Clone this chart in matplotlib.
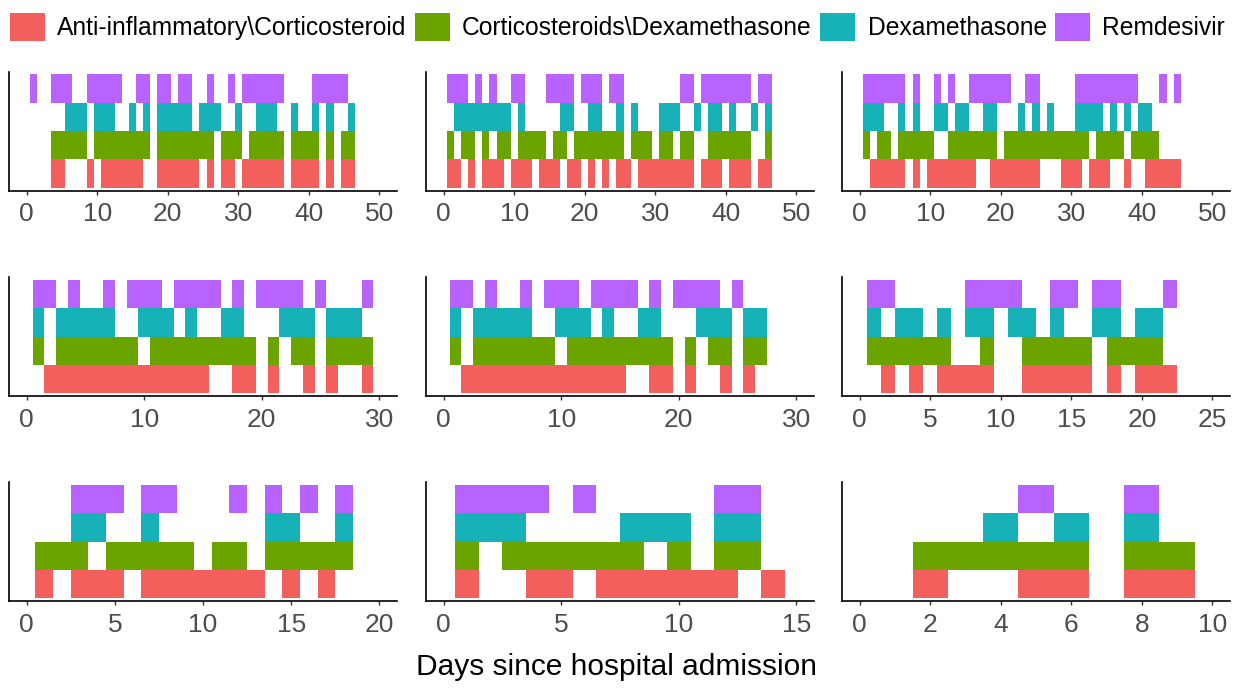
import numpy as np
import matplotlib.pyplot as plt
from matplotlib.patches import Patch

plt.rcParams['font.family'] = ['Liberation Sans', 'DejaVu Sans']

drugs = ['Anti-inflammatory\\Corticosteroid', 'Corticosteroids\\Dexamethasone',
         'Dexamethasone', 'Remdesivir']
colors = ['#F25F5C', '#6BA300', '#17B2B8', '#B863FF']

# days on each medication, one list per drug per patient (panel)
p1_anti = [4, 5, 9, 11, 12, 13, 14, 15, 16, 19, 20, 21, 22, 23, 24, 26, 28, 29,
           31, 32, 33, 34, 35, 36, 38, 39, 40, 41, 43, 45, 46]
p1_cort = [4, 5, 6, 7, 8, 10, 11, 12, 13, 14, 15, 16, 17, 19, 20, 21, 22, 23, 24,
           25, 26, 28, 29, 30, 32, 33, 34, 35, 36, 38, 39, 40, 41, 43, 45, 46]
p1_dexa = [6, 7, 8, 10, 11, 12, 15, 17, 19, 20, 21, 22, 23, 25, 26, 27, 30, 33,
           34, 35, 38, 41, 43, 46]
p1_remd = [1, 4, 5, 6, 9, 10, 11, 12, 13, 16, 17, 19, 20, 22, 23, 26, 29, 31, 32,
           33, 34, 35, 36, 41, 42, 43, 44, 45]

p2_anti = [1, 2, 4, 6, 7, 8, 10, 11, 12, 14, 15, 16, 18, 19, 21, 23, 25, 26, 28,
           29, 30, 31, 32, 33, 34, 35, 37, 38, 39, 41, 42, 43, 45, 46]
p2_cort = [1, 3, 4, 6, 8, 9, 11, 12, 13, 14, 16, 17, 19, 20, 21, 22, 23, 24, 25,
           27, 28, 29, 31, 32, 34, 35, 38, 39, 40, 41, 42, 43, 46]
p2_dexa = [2, 3, 4, 5, 6, 7, 8, 9, 11, 17, 18, 21, 22, 25, 27, 31, 32, 33, 36,
           38, 39, 41, 44, 46]
p2_remd = [1, 2, 3, 5, 7, 10, 11, 15, 16, 17, 18, 20, 21, 22, 24, 25, 34, 35, 37,
           38, 39, 40, 41, 42, 43, 45, 46]

p3_anti = [2, 3, 4, 5, 6, 8, 10, 11, 12, 13, 14, 15, 16, 19, 20, 21, 22, 23, 24,
           25, 29, 30, 31, 33, 34, 35, 38, 41, 42, 43, 44, 45]
p3_cort = [1, 3, 4, 6, 7, 8, 9, 10, 13, 14, 15, 16, 17, 18, 19, 21, 22, 23, 24,
           25, 26, 27, 28, 29, 30, 31, 32, 34, 35, 36, 37, 39, 40, 41, 42]
p3_dexa = [1, 2, 3, 6, 8, 11, 12, 14, 15, 18, 19, 23, 25, 27, 31, 32, 33, 34, 36,
           38, 40, 41]
p3_remd = [1, 2, 3, 4, 5, 6, 8, 11, 13, 16, 17, 18, 19, 20, 21, 24, 25, 31, 32,
           33, 34, 35, 36, 37, 38, 39, 43, 45]

p4_anti = [2, 3, 4, 5, 6, 7, 8, 9, 10, 11, 12, 13, 14, 15, 18, 19, 21, 24, 26, 29]
p4_cort = [1, 3, 4, 5, 6, 7, 8, 9, 11, 12, 13, 14, 15, 16, 17, 18, 19, 21, 23, 24,
           26, 27, 28, 29]
p4_dexa = [1, 3, 4, 5, 6, 7, 10, 11, 12, 14, 17, 18, 22, 23, 24, 26, 27, 28]
p4_remd = [1, 2, 4, 7, 9, 10, 11, 13, 14, 15, 16, 18, 20, 21, 22, 23, 25, 29]

p5_anti = [2, 3, 4, 5, 6, 7, 8, 9, 10, 11, 12, 13, 14, 15, 18, 19, 21, 24, 26]
p5_cort = [1, 3, 4, 5, 6, 7, 8, 9, 11, 12, 13, 14, 15, 16, 17, 18, 19, 21, 23, 24,
           26, 27]
p5_dexa = [1, 3, 4, 5, 6, 7, 10, 11, 12, 14, 17, 18, 22, 23, 24, 26, 27]
p5_remd = [1, 2, 4, 7, 9, 10, 11, 13, 14, 15, 16, 18, 20, 21, 22, 23, 25]

p6_anti = [2, 4, 6, 7, 8, 9, 12, 13, 14, 15, 16, 18, 20, 21, 22]
p6_cort = [1, 2, 3, 4, 5, 6, 9, 12, 13, 14, 15, 16, 18, 19, 20, 21]
p6_dexa = [1, 3, 4, 6, 8, 9, 11, 12, 14, 17, 18, 20, 21]
p6_remd = [1, 2, 8, 9, 10, 11, 14, 15, 17, 18, 22]

p7_anti = [1, 3, 4, 5, 7, 8, 9, 10, 11, 12, 13, 15, 17]
p7_cort = [1, 2, 3, 5, 6, 7, 8, 9, 11, 12, 14, 15, 16, 17, 18]
p7_dexa = [3, 4, 7, 14, 15, 18]
p7_remd = [3, 4, 5, 7, 8, 12, 14, 16, 18]

p8_anti = [1, 4, 5, 7, 8, 9, 10, 11, 12, 14]
p8_cort = [1, 3, 4, 5, 6, 7, 8, 10, 12, 13]
p8_dexa = [1, 2, 3, 8, 9, 10, 12, 13]
p8_remd = [1, 2, 3, 4, 6, 12, 13]

p9_anti = [2, 5, 6, 8, 9]
p9_cort = [2, 3, 4, 5, 6, 8, 9]
p9_dexa = [4, 6, 8]
p9_remd = [5, 8]

panels = [
    [p1_anti, p1_cort, p1_dexa, p1_remd],
    [p2_anti, p2_cort, p2_dexa, p2_remd],
    [p3_anti, p3_cort, p3_dexa, p3_remd],
    [p4_anti, p4_cort, p4_dexa, p4_remd],
    [p5_anti, p5_cort, p5_dexa, p5_remd],
    [p6_anti, p6_cort, p6_dexa, p6_remd],
    [p7_anti, p7_cort, p7_dexa, p7_remd],
    [p8_anti, p8_cort, p8_dexa, p8_remd],
    [p9_anti, p9_cort, p9_dexa, p9_remd],
]
x_max = [50, 50, 50, 30, 30, 25, 20, 15, 10]
x_step = [10, 10, 10, 10, 10, 5, 5, 5, 2]

W, H = 1249, 690
fig = plt.figure(figsize=(W / 100, H / 100), dpi=100)

col_left = [9, 426, 842]
ax_w = 388
row_bottom = [190.5, 396, 601]
ax_h = 119

for i, series in enumerate(panels):
    r, c = divmod(i, 3)
    ax = fig.add_axes([col_left[c] / W, 1 - row_bottom[r] / H, ax_w / W, ax_h / H])
    for k, days in enumerate(series):
        ax.bar(days, 1.0, width=1.0, bottom=k + 0.5, color=colors[k],
               linewidth=0, align='center')
    pad = 0.05 * x_max[i]
    ax.set_xlim(-pad, x_max[i] + pad)
    ax.set_ylim(0.4, 4.6)
    ax.set_xticks(np.arange(0, x_max[i] + 1, x_step[i]))
    ax.set_yticks([])
    for s in ['top', 'right']:
        ax.spines[s].set_visible(False)
    for s in ['left', 'bottom']:
        ax.spines[s].set_linewidth(1.2)
        ax.spines[s].set_color('black')
    ax.tick_params(axis='x', length=2.9, width=1.0, color='#333333', pad=5.5,
                   labelsize=19, labelcolor='#4D4D4D')

handles = [Patch(facecolor=col, edgecolor='none') for col in colors]
fig.legend(handles, drugs, loc='center', bbox_to_anchor=(617.5 / W, 1 - 27 / H),
           ncol=4, frameon=False, fontsize=17.7, handlelength=1.42, handleheight=1.42,
           handletextpad=0.5, columnspacing=0.35, borderpad=0)

fig.text(617 / W, 1 - 667 / H, 'Days since hospital admission', ha='center',
         va='center', fontsize=21.5, color='black')

fig.savefig('out.png', dpi=100)
